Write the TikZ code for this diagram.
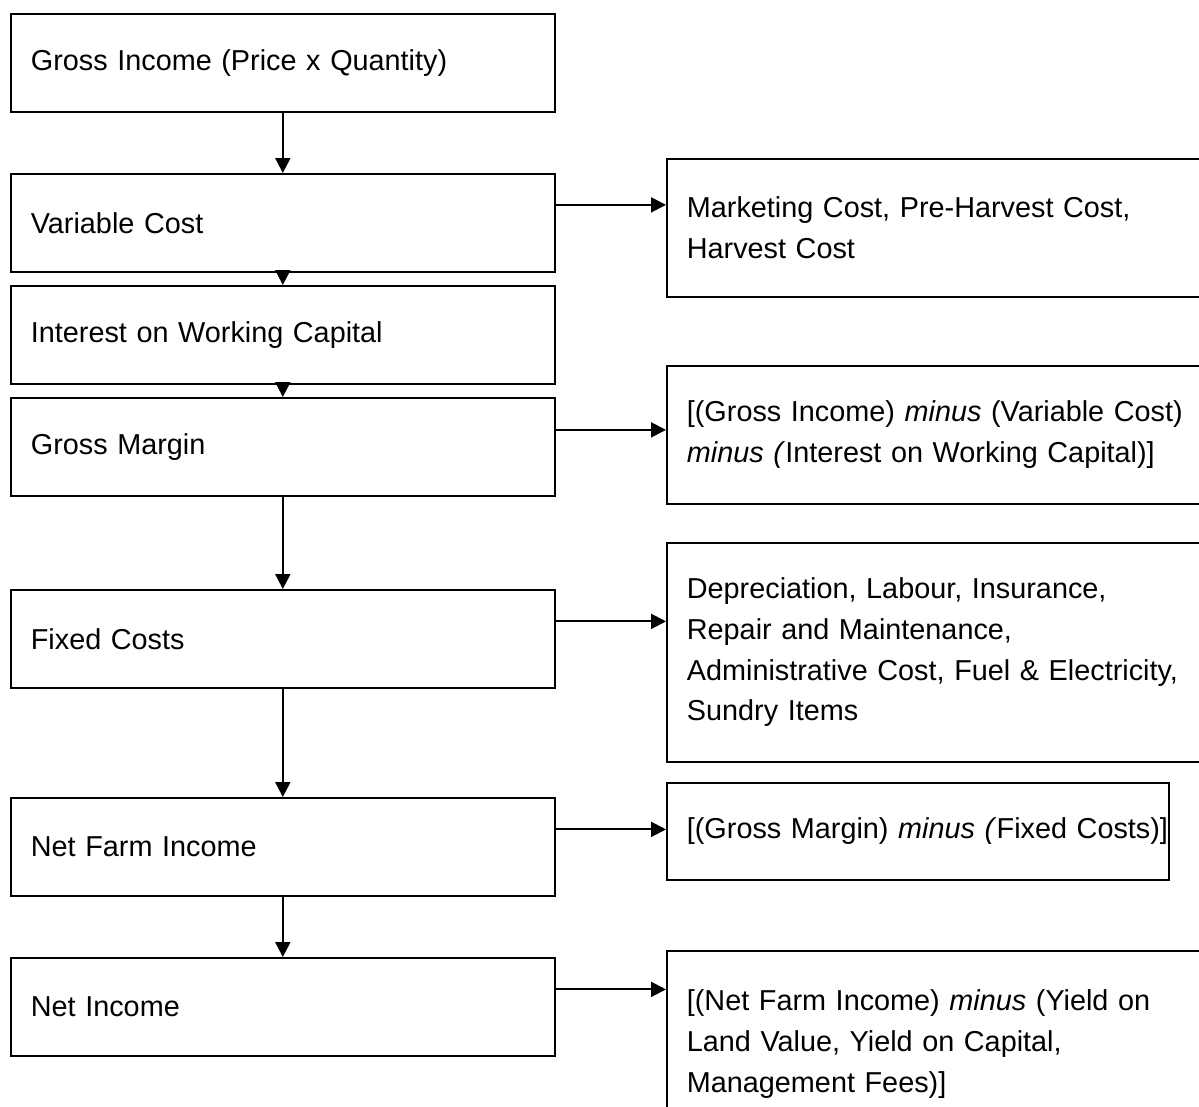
\documentclass[tikz,border=0pt]{standalone}
\usepackage{fontspec}
\setmainfont{Liberation Sans}
\usetikzlibrary{arrows.meta}

\begin{document}
\begin{tikzpicture}[
  x=0.02cm, y=-0.02cm,
  font=\fontsize{16.4}{23.2}\selectfont,
  %% left column: one step of the budget
  box/.style={
    draw, line width=1pt, rectangle, anchor=north west,
    minimum width=10.88cm, minimum height=1.96cm,
    text width=10.08cm, inner xsep=0.4cm, align=left
  },
  %% right column: what the step is made of
  side/.style={
    draw, line width=1pt, rectangle, anchor=north west,
    minimum width=12cm, text width=11.2cm,
    inner xsep=0.4cm, align=left
  },
  %% connector with solid head
  arr/.style={
    -{Triangle[length=0.3cm,width=0.3cm]}, line width=1.1pt
  },
]

%% ── Frame ────────────────────────────────────────────────────────────────────
\useasboundingbox (0,0) rectangle (1199,1106);
\clip (0,0) rectangle (1199,1106);

%% ── Left column ──────────────────────────────────────────────────────────────
\node[box] (gross)  at (10,13)  {Gross Income (Price x Quantity)};
\node[box] (var)    at (10,173) {Variable Cost};
\node[box] (intr)   at (10,285) {Interest on Working Capital};
\node[box] (margin) at (10,397) {Gross Margin};
\node[box] (fixed)  at (10,589) {Fixed Costs};
\node[box] (farm)   at (10,797) {Net Farm Income};
\node[box] (net)    at (10,957) {Net Income};

%% ── Right column ─────────────────────────────────────────────────────────────
\node[side, minimum height=2.76cm] (varItems) at (666,158)
  {Marketing Cost, Pre-Harvest Cost,\\Harvest Cost};
\node[side, minimum height=2.76cm] (marginEq) at (666,365)
  {[(Gross Income) \textit{minus} (Variable Cost)\\
   \textit{minus (}Interest on Working Capital)]};
\node[side, minimum height=4.38cm] (fixedItems) at (666,542)
  {Depreciation, Labour, Insurance,\\Repair and Maintenance,\\
   Administrative Cost, Fuel \& Electricity,\\Sundry Items};
\node[side, minimum width=10.04cm, text width=9.24cm,
      minimum height=1.94cm] (farmEq) at (666,782)
  {\mbox{[(Gross Margin) \textit{minus (}Fixed Costs)]}};
\node[side, minimum height=3.72cm] (netEq) at (666,950)
  {[(Net Farm Income) \textit{minus} (Yield on\\
   Land Value, Yield on Capital,\\Management Fees)]};

%% ── Down the column ──────────────────────────────────────────────────────────
\draw[arr] (gross.south)  -- (var.north);
\draw[arr] (var.south)    -- (intr.north);
\draw[arr] (intr.south)   -- (margin.north);
\draw[arr] (margin.south) -- (fixed.north);
\draw[arr] (fixed.south)  -- (farm.north);
\draw[arr] (farm.south)   -- (net.north);

%% ── Across to the details (a little above box centre) ────────────────────────
\coordinate (varR)    at ([yshift=0.36cm]var.east);
\coordinate (marginR) at ([yshift=0.34cm]margin.east);
\coordinate (fixedR)  at ([yshift=0.35cm]fixed.east);
\coordinate (farmR)   at ([yshift=0.35cm]farm.east);
\coordinate (netR)    at ([yshift=0.35cm]net.east);

\draw[arr] (varR)    -- (varR -| varItems.west);
\draw[arr] (marginR) -- (marginR -| marginEq.west);
\draw[arr] (fixedR)  -- (fixedR -| fixedItems.west);
\draw[arr] (farmR)   -- (farmR -| farmEq.west);
\draw[arr] (netR)    -- (netR -| netEq.west);

\end{tikzpicture}
\end{document}
